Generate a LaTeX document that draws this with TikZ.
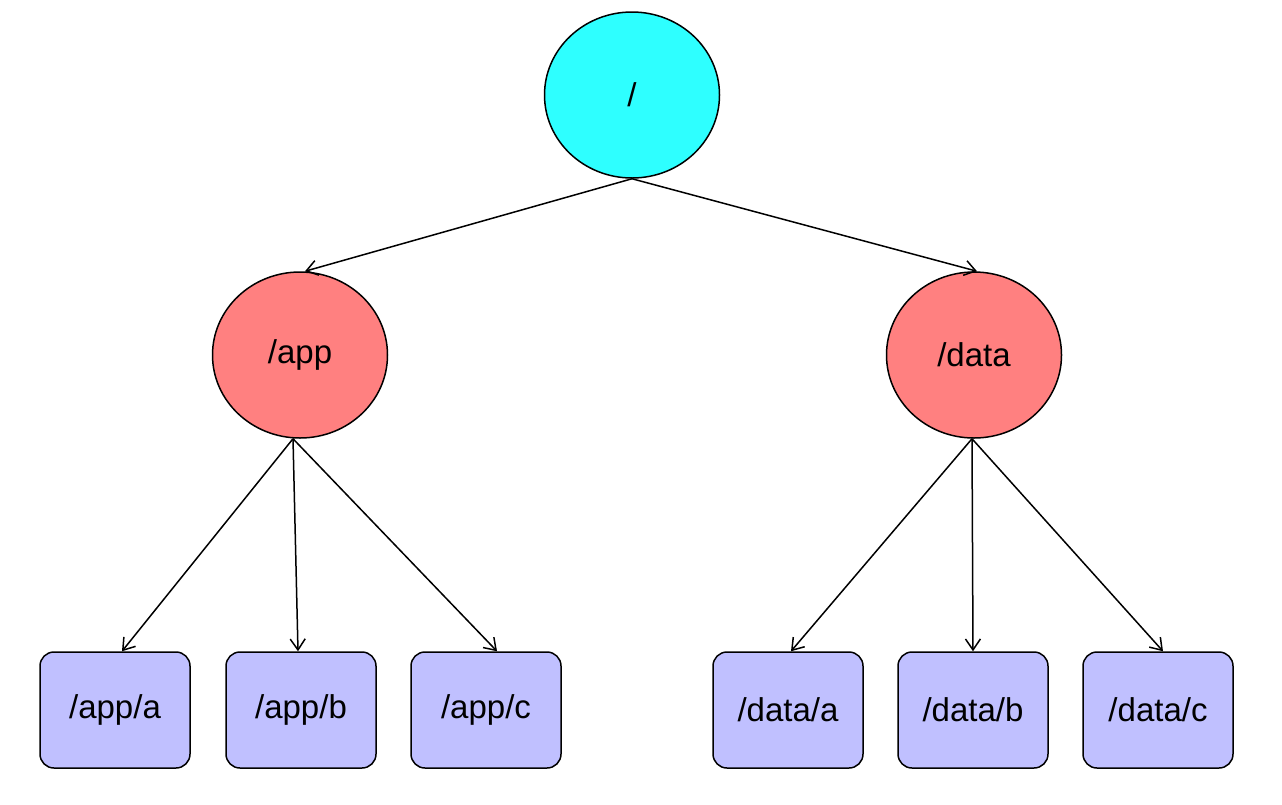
\documentclass[tikz,border=0pt]{standalone}
\usepackage{fontspec}
\setmainfont{Liberation Sans}
\usetikzlibrary{arrows.meta,shapes.geometric}
\definecolor{rootcol}{RGB}{46,255,255}
\definecolor{dircol}{RGB}{255,128,128}
\definecolor{leafcol}{RGB}{192,192,255}
\begin{document}
\begin{tikzpicture}[x=1pt,y=-1pt,
    rootnode/.style={ellipse,draw,line width=1.5pt,fill=rootcol,minimum width=175pt,minimum height=166pt,font=\fontsize{33}{38}\selectfont},
    dirnode/.style={ellipse,draw,line width=1.5pt,fill=dircol,minimum width=175pt,minimum height=166pt,font=\fontsize{33}{38}\selectfont},
    leafnode/.style={rectangle,rounded corners=14pt,draw,line width=1.5pt,fill=leafcol,minimum width=150pt,minimum height=116pt,font=\fontsize{33}{38}\selectfont},
    edge/.style={-{Straight Barb[length=11pt,width=15pt]},line width=1.5pt}]
    \useasboundingbox (0,0) rectangle (1282,804);

    % Radice
    \node[rootnode] (root) at (632,95) {/};

    % Directory
    \node[dirnode] (app) at (300,355) {/app};
    \node[dirnode] (data) at (974,355) {/data};

    % Foglie
    \node[leafnode] (appa) at (115,710) {/app/a};
    \node[leafnode] (appb) at (301,710) {/app/b};
    \node[leafnode] (appc) at (486,710) {/app/c};
    \node[leafnode] (dataa) at (788,710) {/data/a};
    \node[leafnode] (datab) at (973,710) {/data/b};
    \node[leafnode] (datac) at (1158,710) {/data/c};

    % Archi
    \draw[edge] (root.south) -- ([xshift=5]app.north);
    \draw[edge] (root.south) -- ([xshift=3]data.north);
    \foreach \leaf/\dx in {appa/7,appb/-3,appc/11}
        \draw[edge] ([xshift=-7]app.south) -- ([xshift=\dx]\leaf.north);
    \foreach \leaf/\dx in {dataa/3,datab/0,datac/5}
        \draw[edge] ([xshift=-2]data.south) -- ([xshift=\dx]\leaf.north);
\end{tikzpicture}
\end{document}
